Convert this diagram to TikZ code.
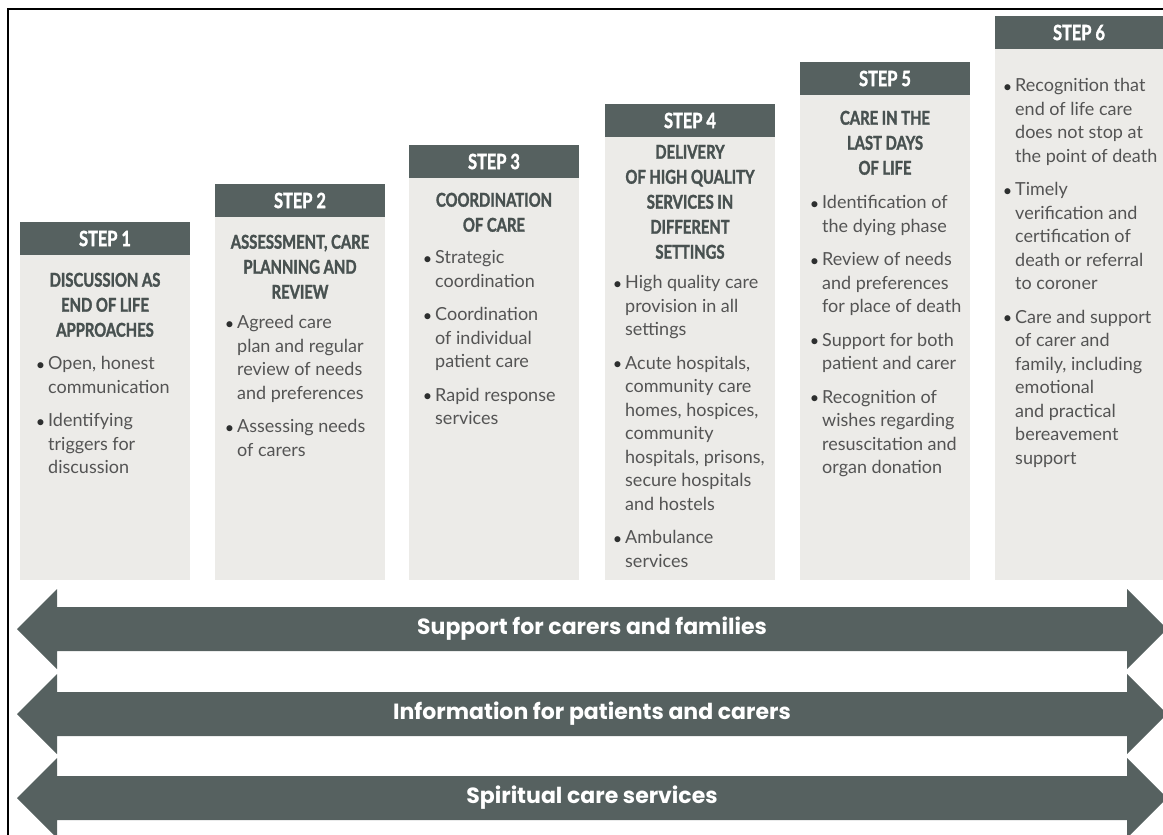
\documentclass[tikz,border=0pt]{standalone}
\usepackage{fontspec}
\setmainfont{Lato}
\newfontfamily\condfont{Lato}[FakeStretch=0.78, BoldFeatures={FakeBold=1.6}]
\newfontfamily\bandfont{Poppins}

\definecolor{slate}{RGB}{86,97,96}
\definecolor{panelgrey}{RGB}{236,235,232}
\definecolor{titleink}{RGB}{72,81,80}
\definecolor{bodyink}{RGB}{84,84,84}
\definecolor{dotink}{RGB}{45,47,47}

% small bullet hanging to the left of an item's first line
\newcommand\bul{\strut\llap{\textcolor{dotink}{\raisebox{-0.5pt}{\scalebox{0.9}{\textbullet}}}\hspace{3pt}}}

\tikzset{
  panelbox/.style={fill=panelgrey, draw=none, anchor=north west, inner sep=0,
                   minimum width=170, outer sep=0},
  headbar/.style={fill=slate, anchor=north west, inner sep=0, outer sep=0,
                  minimum width=170, minimum height=33, text=white,
                  font=\condfont\bfseries\fontsize{21}{24}\selectfont},
  titletxt/.style={anchor=north, align=center, inner sep=0, text=titleink,
                   font=\condfont\bfseries\fontsize{19}{25}\selectfont},
  bodytxt/.style={anchor=north west, align=left, inner sep=0, text=bodyink,
                  font=\fontsize{18}{23.5}\selectfont},
  band/.style={fill=slate},
  bandtxt/.style={text=white, inner sep=0,
                  font=\bandfont\bfseries\fontsize{22}{24}\selectfont}
}

\begin{document}
\begin{tikzpicture}[x=1pt,y=-1pt]
\useasboundingbox (0,0) rectangle (1163,835);

% outer frame (open at the right and bottom)
\draw[line width=2] (8,835) -- (8,9) -- (1163,9);

% ---- step columns: panel, header bar, title, bullet list ----
\node[panelbox, minimum height=325] (p1) at (20,255) {};
\node[headbar] (h1) at (20,222) {STEP 1};
\node[titletxt] (t1) at (105,269) {\strut DISCUSSION AS\\END OF LIFE\\APPROACHES};
\node[bodytxt] (b1) at (48,353) {\bul Open, honest\\communication\\[10pt]\bul Identifying\\triggers for\\discussion};

\node[panelbox, minimum height=364] (p2) at (215,216) {};
\node[headbar] (h2) at (215,184) {STEP 2};
\node[titletxt] (t2) at (300,231) {\strut ASSESSMENT, CARE\\PLANNING AND\\REVIEW};
\node[bodytxt] (b2) at (237,312) {\bul Agreed care\\plan and regular\\review of needs\\and preferences\\[10pt]\bul Assessing needs\\of carers};

\node[panelbox, minimum height=403] (p3) at (409,177) {};
\node[headbar] (h3) at (409,145) {STEP 3};
\node[titletxt] (t3) at (494,189) {\strut COORDINATION\\OF CARE};
\node[bodytxt] (b3) at (435,247) {\bul Strategic\\coordination\\[10pt]\bul Coordination\\of individual\\patient care\\[10pt]\bul Rapid response\\services};

\node[panelbox, minimum height=444] (p4) at (605,136) {};
\node[headbar] (h4) at (605,104) {STEP 4};
\node[titletxt] (t4) at (690,141) {\strut DELIVERY\\OF HIGH QUALITY\\SERVICES IN\\DIFFERENT\\SETTINGS};
\node[bodytxt] (b4) at (625,272) {\bul High quality care\\provision in all\\settings\\[10pt]\bul Acute hospitals,\\community care\\homes, hospices,\\community\\hospitals, prisons,\\secure hospitals\\and hostels\\[10pt]\bul Ambulance\\services};

\node[panelbox, minimum height=485] (p5) at (800,95) {};
\node[headbar] (h5) at (800,62) {STEP 5};
\node[titletxt] (t5) at (885,107) {\strut CARE IN THE\\LAST DAYS\\OF LIFE};
\node[bodytxt] (b5) at (822,192) {\bul Identification of\\the dying phase\\[10pt]\bul Review of needs\\and preferences\\for place of death\\[10pt]\bul Support for both\\patient and carer\\[10pt]\bul Recognition of\\wishes regarding\\resuscitation and\\organ donation};

\node[panelbox, minimum height=532, minimum width=168] (p6) at (995,48) {};
\node[headbar, minimum width=168] (h6) at (995,16) {STEP 6};
\node[bodytxt] (b6) at (1015,75) {\bul Recognition that\\end of life care\\does not stop at\\the point of death\\[10pt]\bul Timely\\verification and\\certification of\\death or referral\\to coroner\\[10pt]\bul Care and support\\of carer and\\family, including\\emotional\\and practical\\bereavement\\support};

% ---- double-headed bands across all steps ----
\foreach \c/\lbl/\nm in {629/Support for carers and families/s1,
                         714/Information for patients and carers/s2,
                         798/Spiritual care services/s3}{
  \fill[band] (17,\c) -- (57,\c-40) -- (57,\c-22) -- (1127,\c-22) -- (1127,\c-40)
     -- (1167,\c) -- (1127,\c+40) -- (1127,\c+22) -- (57,\c+22) -- (57,\c+40) -- cycle;
  \node[bandtxt] (\nm) at (592,\c) {\lbl};
}
\end{tikzpicture}
\end{document}
